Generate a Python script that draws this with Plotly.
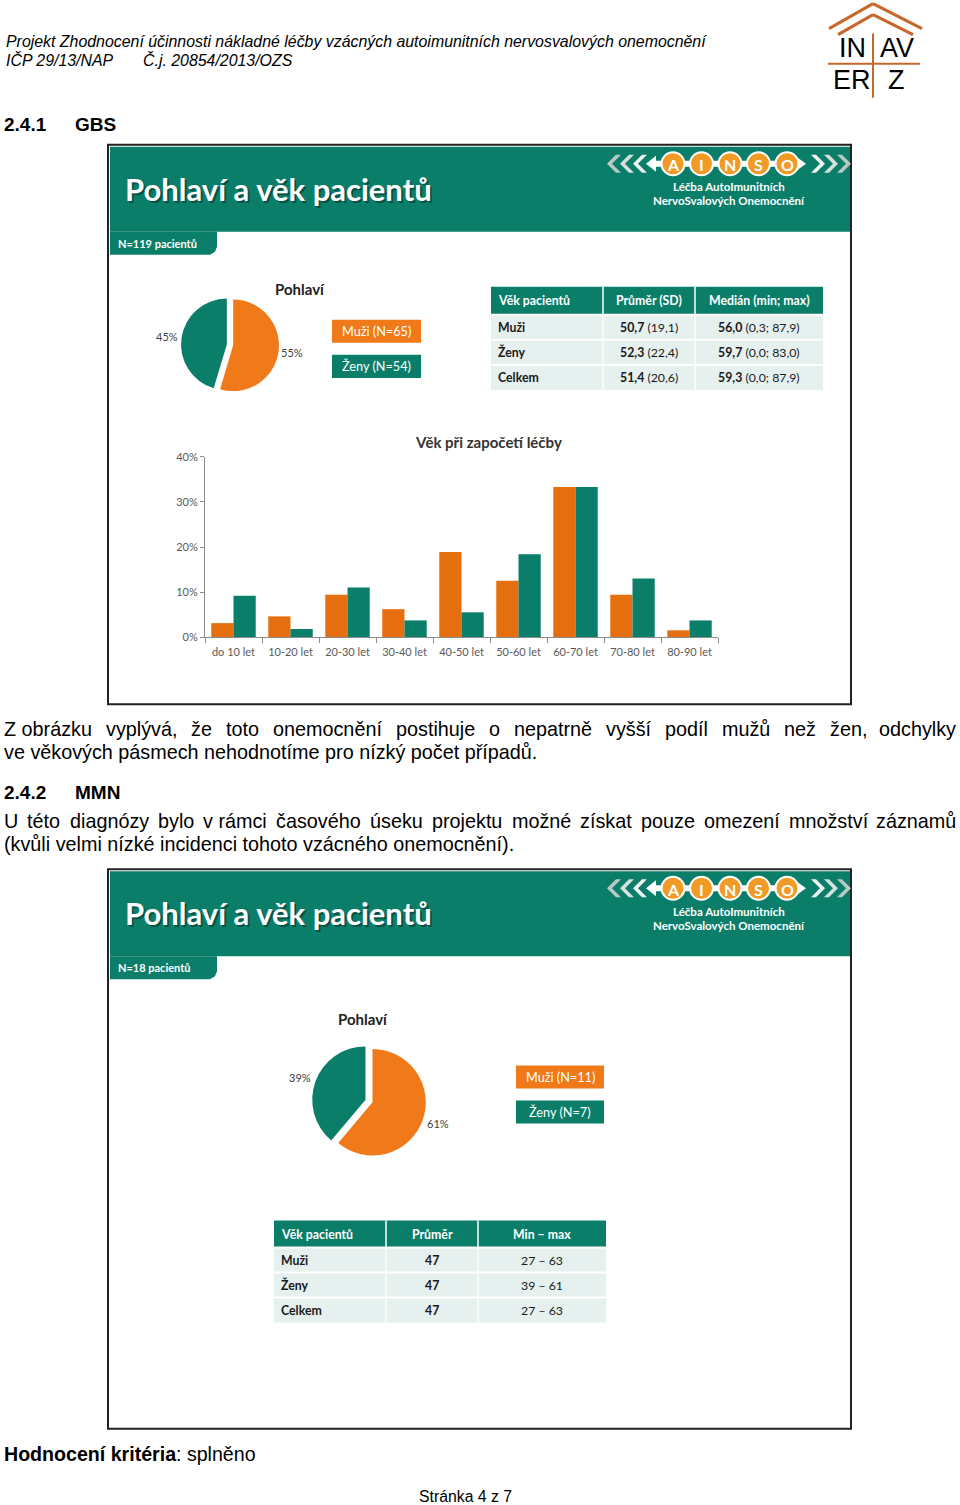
import plotly.graph_objects as go

W, H = 960, 1505

# ---------------- data ----------------
age_groups = ["do 10 let", "10-20 let", "20-30 let", "30-40 let", "40-50 let",
              "50-60 let", "60-70 let", "70-80 let", "80-90 let"]
gbs_men_pct = [3.1, 4.6, 9.4, 6.2, 18.9, 12.5, 33.3, 9.4, 1.5]
gbs_women_pct = [9.2, 1.8, 11.0, 3.7, 5.5, 18.4, 33.3, 13.0, 3.7]
y_ticks = [0, 10, 20, 30, 40]

sex_labels = ["Muži", "Ženy"]
gbs_sex_counts = [65, 54]
mmn_sex_counts = [11, 7]

gbs_table_header = ["Věk pacientů", "Průměr (SD)", "Medián (min; max)"]
table_groups = ["Muži", "Ženy", "Celkem"]
gbs_mean = ["50,7", "52,3", "51,4"]
gbs_sd = ["19,1", "22,4", "20,6"]
gbs_median = ["56,0", "59,7", "59,3"]
gbs_minmax = ["0,3; 87,9", "0,0; 83,0", "0,0; 87,9"]

mmn_table_header = ["Věk pacientů", "Průměr", "Min – max"]
mmn_mean = ["47", "47", "47"]
mmn_min = [27, 39, 27]
mmn_max = [63, 61, 63]

para1_line1 = ["Z obrázku", "vyplývá,", "že", "toto", "onemocnění", "postihuje", "o", "nepatrně",
               "vyšší", "podíl", "mužů", "než", "žen,", "odchylky"]
para1_line2 = "ve věkových pásmech nehodnotíme pro nízký počet případů."
para2_line1 = ["U", "této", "diagnózy", "bylo", "v rámci", "časového", "úseku", "projektu", "možné",
               "získat", "pouze", "omezení", "množství", "záznamů"]
para2_line2 = "(kvůli velmi nízké incidenci tohoto vzácného onemocnění)."

# ---------------- styles ----------------
TEAL = "#0B7E69"
ORANGE = "#E56F0E"
PIE_ORANGE = "#F07A1A"
MINT = "#E6F0EE"
DOC_FONT = "Liberation Sans, Arial"
SLIDE_FONT = "Lato, Open Sans, sans-serif"
BODY_SIZE = 19.8

# approximate Arial/Liberation Sans advance widths (per 1000 em) used to justify lines
_W = {" ": 278, ",": 278, ".": 278, "(": 333, ")": 333,
      "Z": 611, "U": 722, "a": 556, "b": 556, "c": 500, "d": 556, "e": 556, "f": 278,
      "g": 556, "h": 556, "i": 222, "j": 222, "k": 500, "l": 222, "m": 833, "n": 556,
      "o": 556, "p": 556, "q": 556, "r": 333, "s": 500, "t": 278, "u": 556, "v": 500,
      "w": 722, "x": 500, "y": 500, "z": 500,
      "á": 556, "é": 556, "í": 278, "ý": 500, "ž": 500, "š": 500, "č": 500, "ě": 556,
      "ř": 333, "ů": 556, "ú": 556, "ó": 556, "ň": 556}

def text_w(s, size):
    return sum(_W.get(ch, 556) for ch in s) * size / 1000.0

# vertical placement calibration (page pixel -> paper fraction)
Y_OFF, Y_SCALE = 7.4, 0.9906

def px(x):
    return x / W

def py(y):
    return 1 - ((y - Y_OFF) / Y_SCALE) / H

shapes = []
annotations = []

def ann(x, y, text, size=12, color="black", family=DOC_FONT, xanchor="left",
        yanchor="middle", **kw):
    annotations.append(dict(x=px(x), y=py(y), xref="paper", yref="paper", text=text,
                            showarrow=False, xanchor=xanchor, yanchor=yanchor, borderpad=0,
                            font=dict(size=size, color=color, family=family), **kw))

def rect(x0, y0, x1, y1, fill=None, line_color=None, lw=0, layer="below"):
    shapes.append(dict(type="rect", xref="paper", yref="paper",
                       x0=px(x0), x1=px(x1), y0=py(y1), y1=py(y0),
                       fillcolor=fill if fill else "rgba(0,0,0,0)",
                       line=dict(color=line_color if line_color else "rgba(0,0,0,0)", width=lw),
                       layer=layer))

def line(x0, y0, x1, y1, color, width, layer="above"):
    shapes.append(dict(type="line", xref="paper", yref="paper",
                       x0=px(x0), x1=px(x1), y0=py(y0), y1=py(y1),
                       line=dict(color=color, width=width), layer=layer))

def poly(points, fill, layer="above"):
    d = "M " + " L ".join(f"{px(a):.5f},{py(b):.5f}" for a, b in points) + " Z"
    shapes.append(dict(type="path", xref="paper", yref="paper", path=d,
                       fillcolor=fill, line=dict(width=0), layer=layer))

def circle(xc, yc, r, fill, lc="white", lw=2):
    shapes.append(dict(type="circle", xref="paper", yref="paper",
                       x0=px(xc - r), x1=px(xc + r), y0=py(yc + r), y1=py(yc - r),
                       fillcolor=fill, line=dict(color=lc, width=lw)))

def justified(words, y, x0=3, x1=957, size=BODY_SIZE):
    widths = [text_w(w, size) for w in words]
    gap = (x1 - x0 - sum(widths)) / (len(words) - 1)
    x = x0
    for i, (w, wd) in enumerate(zip(words, widths)):
        if i == len(words) - 1:
            ann(x1, y, w, size=size, xanchor="right")
        else:
            ann(x, y, w, size=size)
        x += wd + gap

# ---------------- document header ----------------
ann(5, 42, "<i>Projekt Zhodnocení účinnosti nákladné léčby vzácných autoimunitních nervosvalových onemocnění</i>", size=15.9)
ann(5, 60, "<i>IČP 29/13/NAP</i>", size=15.9)
ann(142, 60, "<i>Č.j. 20854/2013/OZS</i>", size=15.9)

# INAVERZ logo
LOGO_OR = "#C8672A"
line(829, 29, 873, 4, LOGO_OR, 3)
line(873, 4, 922, 29, LOGO_OR, 3)
line(838, 35, 873, 15, LOGO_OR, 3)
line(873, 15, 913, 35, LOGO_OR, 3)
line(873, 34, 873, 98, LOGO_OR, 2)
line(828, 64, 920, 64, LOGO_OR, 2)
ann(852, 48, "IN", size=27, xanchor="center")
ann(897, 48, "AV", size=27, xanchor="center")
ann(852, 80, "ER", size=27, xanchor="center")
ann(896, 80, "Z", size=27, xanchor="center")

ann(3, 125, "<b>2.4.1</b>", size=19)
ann(74, 125, "<b>GBS</b>", size=19)

# ---------------- slide helpers ----------------
def slide_frame(top, bottom, n_text):
    rect(108, top, 851, bottom, fill="white", line_color="#222222", lw=2)
    rect(110, top + 2, 850, top + 87, fill=TEAL)
    t0, t1 = top + 87, top + 110
    pts = [(110, t0), (217, t0), (217, t1 - 8), (215, t1 - 3), (210, t1), (110, t1)]
    poly(pts, TEAL, layer="below")
    ann(117, (t0 + t1) / 2, f"<b>{n_text}</b>", size=11, color="white", family=SLIDE_FONT)
    ann(126, top + 46, "<b>Pohlaví a věk pacientů</b>", size=31, color="rgba(0,0,0,0.35)", family=SLIDE_FONT)
    ann(124, top + 44, "<b>Pohlaví a věk pacientů</b>", size=31, color="white", family=SLIDE_FONT)
    # AINSO logo
    yc = top + 19
    for x0, c in [(607, "#B9C9C4"), (620, "#D6E0DD"), (633, "#EEF2F1")]:
        s, t = 9, 5
        poly([(x0, yc), (x0 + s, yc - s), (x0 + s + t, yc - s), (x0 + t, yc),
              (x0 + s + t, yc + s), (x0 + s, yc + s)], c)
    poly([(646, yc), (656, yc - 8), (656, yc - 3), (664, yc - 3), (664, yc + 3),
          (656, yc + 3), (656, yc + 8)], "white")
    centers = [673, 701.5, 730, 758.5, 787]
    rect(673, yc - 3, 800, yc + 3, fill="white", layer="above")
    poly([(795, yc - 3), (795, yc - 8), (806, yc), (795, yc + 8), (795, yc + 3)], "white")
    for xc, letter in zip(centers, "AINSO"):
        circle(xc, yc, 11.5, "#F29A26", lc="white", lw=2)
        ann(xc, yc + 1, f"<b>{letter}</b>", size=16, color="white", family=SLIDE_FONT, xanchor="center")
    for x0, c in [(811, "#EEF2F1"), (824, "#D6E0DD"), (837, "#B9C9C4")]:
        s, t = 9, 5
        poly([(x0 + s + t, yc), (x0 + t, yc - s), (x0, yc - s), (x0 + s, yc),
              (x0, yc + s), (x0 + t, yc + s)], c)
    ann(729, top + 42, "<b>Léčba AutoImunitních</b>", size=11.5, color="white", family=SLIDE_FONT, xanchor="center")
    ann(729, top + 56, "<b>NervoSvalových Onemocnění</b>", size=11.5, color="white", family=SLIDE_FONT, xanchor="center")

def legend_boxes(x0, x1, y_m, y_z, counts):
    rect(x0, y_m, x1, y_m + 23, fill=PIE_ORANGE)
    rect(x0, y_z, x1, y_z + 23, fill=TEAL)
    ann((x0 + x1) / 2, y_m + 11.5, f"{sex_labels[0]} (N={counts[0]})", size=12.7, color="white",
        family=SLIDE_FONT, xanchor="center")
    ann((x0 + x1) / 2, y_z + 11.5, f"{sex_labels[1]} (N={counts[1]})", size=12.7, color="white",
        family=SLIDE_FONT, xanchor="center")

def pct(counts):
    tot = sum(counts)
    return [f"{round(100 * c / tot)}%" for c in counts]

def draw_table(xc, yr, header, columns):
    rect(xc[0], yr[0], xc[-1], yr[1], fill=TEAL, layer="above")
    rect(xc[0], yr[1], xc[-1], yr[-1], fill=MINT, layer="above")
    for x in xc[1:-1]:
        line(x, yr[0], x, yr[-1], "white", 1.5)
    for y in yr[1:-1]:
        line(xc[0], y, xc[-1], y, "white", 2)
    for j, h in enumerate(header):
        yc = (yr[0] + yr[1]) / 2
        if j == 0:
            ann(xc[0] + 6, yc, f"<b>{h}</b>", size=12.3, color="white", family=SLIDE_FONT)
        else:
            ann((xc[j] + xc[j + 1]) / 2, yc, f"<b>{h}</b>", size=12.3, color="white",
                family=SLIDE_FONT, xanchor="center")
    for j, col in enumerate(columns):
        for i, val in enumerate(col):
            yc = (yr[i + 1] + yr[i + 2]) / 2
            if j == 0:
                ann(xc[0] + 6, yc, val, size=12.3, color="#1a1a1a", family=SLIDE_FONT)
            else:
                ann((xc[j] + xc[j + 1]) / 2, yc, val, size=12.3, color="#1a1a1a",
                    family=SLIDE_FONT, xanchor="center")

fig = go.Figure()

# ================= SLIDE 1 (GBS) =================
slide_frame(145, 704, f"N={sum(gbs_sex_counts)} pacientů")
ann(300, 289, "<b>Pohlaví</b>", size=15, color="#222222", family=SLIDE_FONT, xanchor="center")

fig.add_trace(go.Pie(labels=sex_labels, values=gbs_sex_counts, sort=False, direction="clockwise",
                     rotation=0, pull=[0.07, 0.07], textinfo="none", hoverinfo="label+percent",
                     marker=dict(colors=[PIE_ORANGE, TEAL], line=dict(color="white", width=0)),
                     domain=dict(x=[px(181), px(279)], y=[py(394), py(296)]), showlegend=False))
p1 = pct(gbs_sex_counts)
ann(292, 353, p1[0], size=11, color="#404040", family=SLIDE_FONT, xanchor="center")
ann(167, 337, p1[1], size=11, color="#404040", family=SLIDE_FONT, xanchor="center")
legend_boxes(332, 421, 320, 355, gbs_sex_counts)

draw_table([491, 603, 695, 823], [287, 315, 340, 365, 390], gbs_table_header,
           [[f"<b>{g}</b>" for g in table_groups],
            [f"<b>{m}</b> ({s})" for m, s in zip(gbs_mean, gbs_sd)],
            [f"<b>{m}</b> ({r})" for m, r in zip(gbs_median, gbs_minmax)]])

ann(488, 442, "<b>Věk při započetí léčby</b>", size=15, color="#333333", family=SLIDE_FONT, xanchor="center")
fig.add_trace(go.Bar(x=age_groups, y=gbs_men_pct, name="Muži", marker=dict(color=ORANGE, line=dict(width=0)),
                     showlegend=False, xaxis="x", yaxis="y"))
fig.add_trace(go.Bar(x=age_groups, y=gbs_women_pct, name="Ženy", marker=dict(color=TEAL, line=dict(width=0)),
                     showlegend=False, xaxis="x", yaxis="y"))

# ---------------- text between slides ----------------
justified(para1_line1, 729)
ann(3, 752, para1_line2, size=BODY_SIZE)
ann(3, 792, "<b>2.4.2</b>", size=19)
ann(74, 792, "<b>MMN</b>", size=19)
justified(para2_line1, 821)
ann(3, 844, para2_line2, size=BODY_SIZE)

# ================= SLIDE 2 (MMN) =================
slide_frame(869, 1428, f"N={sum(mmn_sex_counts)} pacientů")
ann(363, 1019, "<b>Pohlaví</b>", size=15, color="#222222", family=SLIDE_FONT, xanchor="center")
fig.add_trace(go.Pie(labels=sex_labels, values=mmn_sex_counts, sort=False, direction="clockwise",
                     rotation=0, pull=[0.07, 0.07], textinfo="none", hoverinfo="label+percent",
                     marker=dict(colors=[PIE_ORANGE, TEAL], line=dict(color="white", width=0)),
                     domain=dict(x=[px(312), px(426)], y=[py(1158), py(1043)]), showlegend=False))
p2 = pct(mmn_sex_counts)
ann(438, 1123, p2[0], size=11, color="#404040", family=SLIDE_FONT, xanchor="center")
ann(300, 1077, p2[1], size=11, color="#404040", family=SLIDE_FONT, xanchor="center")
legend_boxes(516, 604, 1065, 1100, mmn_sex_counts)

draw_table([274, 386, 478, 606], [1220, 1247, 1272, 1297, 1322], mmn_table_header,
           [[f"<b>{g}</b>" for g in table_groups],
            [f"<b>{m}</b>" for m in mmn_mean],
            [f"{a} – {b}" for a, b in zip(mmn_min, mmn_max)]])

# ---------------- footer ----------------
ann(3, 1453, "<b>Hodnocení kritéria</b>: splněno", size=19.6)
ann(465, 1496, "Stránka 4 z 7", size=15.8, xanchor="center")

fig.update_layout(
    width=W, height=H, margin=dict(l=0, r=0, t=0, b=0),
    paper_bgcolor="white", plot_bgcolor="white",
    barmode="group", bargap=0.22, bargroupgap=0,
    shapes=shapes, annotations=annotations,
    xaxis=dict(domain=[px(205), px(718)], anchor="y", type="category",
               showline=True, linecolor="#8c8c8c", linewidth=1,
               ticks="outside", ticklen=5, tickcolor="#8c8c8c", tickson="boundaries",
               ticklabelstandoff=5,
               tickfont=dict(size=11, color="#595959", family=SLIDE_FONT), showgrid=False),
    yaxis=dict(domain=[py(637), py(457)], anchor="x", range=[0, 40],
               tickvals=y_ticks, ticktext=[f"{v}%" for v in y_ticks],
               showline=True, linecolor="#8c8c8c", linewidth=1,
               ticks="outside", ticklen=4, tickcolor="#8c8c8c",
               tickfont=dict(size=11, color="#595959", family=SLIDE_FONT),
               showgrid=False, zeroline=False),
    showlegend=False,
)

fig.write_html("out.html", config={"displayModeBar": False},
               post_script="document.body.style.margin='0px';")
